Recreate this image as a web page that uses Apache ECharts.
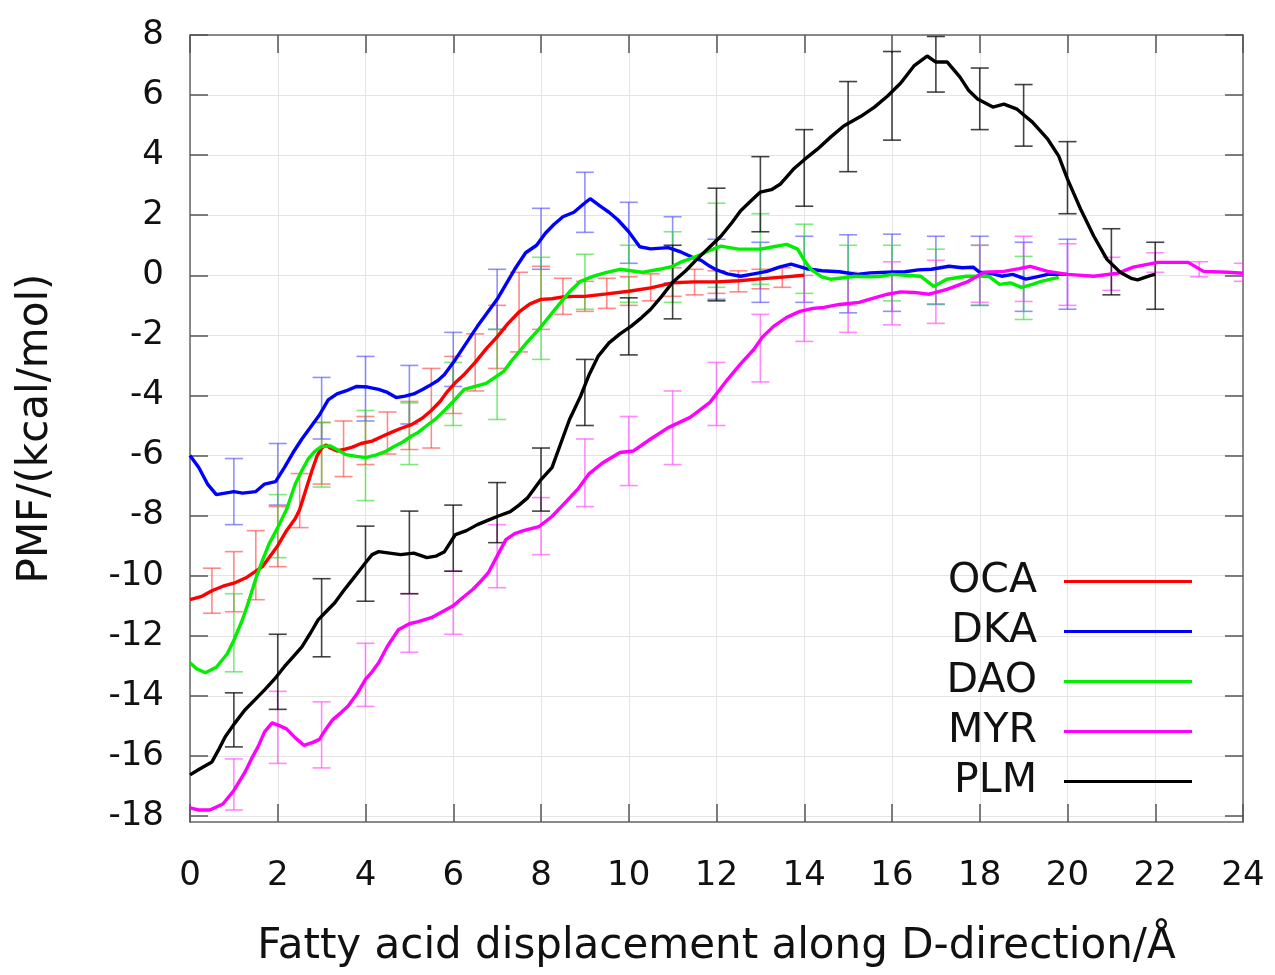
<!DOCTYPE html>
<html><head><meta charset="utf-8">
<script src="https://cdn.jsdelivr.net/npm/echarts@6/dist/echarts.min.js"></script>
<style>html,body{margin:0;padding:0;background:#fff}#c{width:1275px;height:975px}</style>
</head><body><div id="c"></div>
<script>
// ---------- DATA ----------
const seriesNames = ['OCA', 'DKA', 'DAO', 'MYR', 'PLM'];
const xTicks = [0, 2, 4, 6, 8, 10, 12, 14, 16, 18, 20, 22, 24];
const yTicks = [-18, -16, -14, -12, -10, -8, -6, -4, -2, 0, 2, 4, 6, 8];

const ocaLine = [[0,-10.8],[0.25,-10.7],[0.5,-10.5],[0.75,-10.35],[1.0,-10.25],[1.3,-10.05],[1.5,-9.85],[1.65,-9.7],[1.8,-9.4],[2.0,-9.0],[2.2,-8.5],[2.4,-8.1],[2.5,-7.8],[2.65,-7.1],[2.78,-6.5],[2.9,-6.0],[3.0,-5.75],[3.1,-5.65],[3.2,-5.75],[3.35,-5.85],[3.5,-5.8],[3.7,-5.72],[3.9,-5.6],[4.15,-5.52],[4.4,-5.35],[4.6,-5.22],[4.8,-5.1],[5.05,-4.97],[5.3,-4.75],[5.5,-4.5],[5.7,-4.2],[5.85,-3.9],[6.05,-3.57],[6.25,-3.3],[6.5,-2.9],[6.75,-2.45],[7.0,-2.05],[7.25,-1.6],[7.5,-1.22],[7.75,-0.95],[8.0,-0.8],[8.25,-0.78],[8.5,-0.72],[8.75,-0.7],[9.0,-0.7],[9.5,-0.62],[10.0,-0.53],[10.5,-0.42],[11.0,-0.25],[11.5,-0.22],[12.0,-0.22],[12.5,-0.18],[13.0,-0.12],[13.5,-0.06],[14.0,0.0]];
const dkaLine = [[0,-6.0],[0.2,-6.4],[0.4,-6.95],[0.6,-7.3],[0.8,-7.25],[1.0,-7.2],[1.2,-7.25],[1.5,-7.2],[1.7,-6.95],[1.95,-6.87],[2.15,-6.4],[2.35,-5.9],[2.55,-5.45],[2.75,-5.05],[2.95,-4.65],[3.15,-4.15],[3.35,-3.95],[3.55,-3.85],[3.8,-3.7],[4.05,-3.72],[4.3,-3.8],[4.5,-3.9],[4.7,-4.07],[4.9,-4.02],[5.1,-3.95],[5.3,-3.8],[5.45,-3.68],[5.65,-3.5],[5.8,-3.3],[6.05,-2.8],[6.3,-2.25],[6.55,-1.7],[6.8,-1.2],[7.0,-0.8],[7.2,-0.3],[7.4,0.2],[7.65,0.75],[7.9,1.0],[8.1,1.4],[8.3,1.7],[8.5,1.95],[8.75,2.1],[8.95,2.35],[9.12,2.55],[9.35,2.3],[9.55,2.1],[9.75,1.85],[10.0,1.45],[10.25,0.95],[10.5,0.88],[10.9,0.92],[11.2,0.77],[11.45,0.6],[11.65,0.5],[11.85,0.3],[12.0,0.18],[12.25,0.05],[12.55,-0.03],[12.85,0.05],[13.15,0.13],[13.45,0.28],[13.7,0.37],[14.05,0.22],[14.4,0.15],[14.8,0.12],[15.2,0.03],[15.5,0.08],[15.9,0.1],[16.3,0.12],[16.6,0.18],[16.9,0.2],[17.3,0.3],[17.6,0.25],[17.85,0.27],[18.0,0.1],[18.3,0.05],[18.5,-0.03],[18.75,0.03],[19.05,-0.13],[19.3,-0.05],[19.55,0.03],[20.0,0.03]];
const daoLine = [[0,-12.9],[0.15,-13.1],[0.35,-13.23],[0.6,-13.05],[0.85,-12.6],[1.0,-12.15],[1.2,-11.45],[1.35,-10.8],[1.5,-10.1],[1.65,-9.5],[1.8,-8.95],[2.0,-8.4],[2.2,-7.8],[2.4,-6.95],[2.55,-6.5],[2.7,-6.1],[2.85,-5.85],[3.0,-5.7],[3.2,-5.68],[3.35,-5.8],[3.55,-5.97],[3.8,-6.03],[4.0,-6.07],[4.25,-5.98],[4.45,-5.87],[4.65,-5.7],[4.85,-5.55],[5.05,-5.35],[5.2,-5.23],[5.4,-5.0],[5.6,-4.78],[5.8,-4.5],[6.0,-4.2],[6.25,-3.8],[6.5,-3.7],[6.75,-3.6],[6.95,-3.4],[7.15,-3.2],[7.3,-2.9],[7.5,-2.55],[7.7,-2.2],[7.95,-1.8],[8.2,-1.35],[8.45,-0.9],[8.65,-0.55],[8.9,-0.2],[9.2,-0.03],[9.5,0.1],[9.8,0.2],[10.05,0.15],[10.3,0.1],[10.7,0.2],[11.0,0.3],[11.2,0.45],[11.55,0.63],[11.8,0.8],[12.1,0.97],[12.5,0.87],[13.0,0.87],[13.3,0.95],[13.6,1.03],[13.85,0.87],[14.0,0.5],[14.15,0.2],[14.4,-0.05],[14.6,-0.13],[14.9,-0.08],[15.15,-0.03],[15.5,-0.05],[15.75,-0.03],[16.0,0.03],[16.3,0.0],[16.65,-0.03],[16.95,-0.37],[17.25,-0.13],[17.7,-0.03],[18.2,-0.03],[18.45,-0.3],[18.7,-0.25],[18.95,-0.4],[19.2,-0.3],[19.4,-0.2],[19.8,-0.07]];
const myrLine = [[0,-17.73],[0.2,-17.8],[0.45,-17.8],[0.75,-17.6],[1.0,-17.15],[1.25,-16.55],[1.4,-16.1],[1.55,-15.7],[1.7,-15.2],[1.87,-14.9],[2.05,-15.0],[2.2,-15.1],[2.4,-15.4],[2.6,-15.65],[2.8,-15.55],[2.95,-15.45],[3.1,-15.1],[3.25,-14.8],[3.45,-14.55],[3.6,-14.35],[3.8,-13.95],[4.0,-13.45],[4.15,-13.2],[4.3,-12.9],[4.5,-12.35],[4.75,-11.8],[5.0,-11.6],[5.2,-11.53],[5.5,-11.4],[5.75,-11.2],[6.0,-11.0],[6.2,-10.75],[6.45,-10.45],[6.65,-10.15],[6.8,-9.9],[7.0,-9.35],[7.2,-8.8],[7.4,-8.6],[7.6,-8.5],[7.95,-8.37],[8.25,-8.03],[8.55,-7.57],[8.85,-7.1],[9.1,-6.6],[9.4,-6.25],[9.8,-5.9],[10.1,-5.85],[10.5,-5.45],[10.9,-5.07],[11.4,-4.73],[11.85,-4.23],[12.05,-3.85],[12.25,-3.47],[12.55,-2.95],[12.85,-2.47],[13.05,-2.05],[13.3,-1.7],[13.6,-1.4],[13.9,-1.2],[14.2,-1.1],[14.45,-1.07],[14.8,-0.97],[15.25,-0.9],[15.6,-0.75],[15.9,-0.63],[16.2,-0.55],[16.5,-0.57],[16.85,-0.63],[17.25,-0.47],[17.7,-0.23],[18.1,0.1],[18.55,0.13],[18.9,0.22],[19.15,0.3],[19.55,0.13],[20.0,0.03],[20.6,-0.03],[21.15,0.07],[21.5,0.27],[22.05,0.43],[22.75,0.43],[23.1,0.13],[23.65,0.1],[24.0,0.07]];
const plmLine = [[0,-16.63],[0.2,-16.45],[0.5,-16.2],[0.65,-15.8],[0.8,-15.37],[1.0,-14.95],[1.25,-14.47],[1.5,-14.1],[1.7,-13.8],[1.95,-13.4],[2.15,-13.03],[2.35,-12.7],[2.55,-12.37],[2.75,-11.9],[2.92,-11.47],[3.1,-11.2],[3.3,-10.9],[3.5,-10.5],[3.7,-10.13],[3.85,-9.85],[4.0,-9.57],[4.15,-9.3],[4.3,-9.2],[4.55,-9.25],[4.8,-9.3],[5.1,-9.25],[5.4,-9.4],[5.6,-9.35],[5.8,-9.2],[6.05,-8.63],[6.3,-8.5],[6.55,-8.3],[6.8,-8.15],[7.0,-8.03],[7.3,-7.87],[7.5,-7.65],[7.7,-7.4],[7.85,-7.1],[8.0,-6.8],[8.25,-6.4],[8.45,-5.6],[8.65,-4.8],[8.9,-4.03],[9.1,-3.3],[9.3,-2.7],[9.55,-2.25],[9.8,-1.95],[10.05,-1.7],[10.3,-1.4],[10.5,-1.13],[10.75,-0.7],[11.0,-0.23],[11.3,0.15],[11.55,0.53],[11.85,0.95],[12.1,1.3],[12.35,1.75],[12.55,2.15],[12.8,2.5],[13.0,2.77],[13.25,2.85],[13.45,3.03],[13.75,3.53],[14.0,3.85],[14.3,4.2],[14.6,4.6],[14.9,4.97],[15.3,5.3],[15.6,5.6],[15.9,5.97],[16.2,6.4],[16.5,6.97],[16.8,7.3],[17.0,7.1],[17.26,7.1],[17.55,6.6],[17.75,6.15],[17.95,5.87],[18.3,5.6],[18.55,5.7],[18.85,5.53],[19.2,5.1],[19.55,4.53],[19.8,3.97],[20.0,3.2],[20.3,2.2],[20.6,1.3],[20.9,0.53],[21.2,0.1],[21.45,-0.1],[21.6,-0.15],[21.9,0.0],[22.0,0.03]];

// error bars: [x, low, high]
const ocaErr = [[0.5,-11.25,-9.75],[1,-11.2,-9.2],[1.5,-10.8,-8.5],[2,-9.7,-7.7],[2.5,-8.4,-6.6],[3,-6.95,-4.9],[3.5,-6.7,-4.85],[4,-6.3,-4.7],[4.5,-5.95,-4.55],[5,-5.8,-4.2],[5.5,-5.75,-3.1],[6,-4.6,-2.7],[6.5,-3.85,-1.95],[7,-3.1,-1.0],[7.5,-2.55,0.1],[8,-1.8,0.3],[8.5,-1.3,-0.1],[9,-1.2,-0.2],[9.5,-1.1,-0.1],[10,-1.0,-0.05],[10.5,-0.85,0.05],[11,-0.7,0.25],[11.5,-0.65,0.2],[12,-0.6,0.15],[12.5,-0.55,0.15],[13,-0.45,0.2],[13.5,-0.4,0.25]];
const dkaErr = [[1,-8.3,-6.1],[2,-7.65,-5.6],[3,-5.45,-3.4],[4,-4.85,-2.7],[5,-4.95,-3.0],[6,-3.7,-1.9],[7,-1.8,0.2],[8,0.2,2.23],[9,1.43,3.43],[10,0.4,2.43],[11,-0.25,1.95],[12,-0.8,1.2],[13,-0.9,1.1],[14,-0.9,1.3],[15,-1.25,1.35],[16,-1.2,1.37],[17,-0.97,1.3],[18,-1.0,1.3],[19,-1.2,1.1],[20,-1.13,1.2]];
const daoErr = [[1,-13.2,-10.6],[2,-9.4,-7.3],[3,-7.05,-4.9],[4,-7.5,-4.5],[5,-6.3,-4.25],[6,-5.0,-2.9],[7,-4.8,-1.8],[8,-2.8,0.6],[9,-1.13,0.7],[10,-0.9,1.0],[11,-0.9,1.45],[12,-0.4,2.4],[13,-0.3,2.05],[14,-0.6,1.7],[15,-1.0,1.0],[16,-0.85,1.0],[17,-0.95,0.87],[18,-1.0,1.0],[19,-1.47,0.63]];
const myrErr = [[1,-17.8,-16.1],[2,-16.25,-13.85],[3,-16.4,-14.2],[4,-14.35,-12.25],[5,-12.55,-10.6],[6,-11.95,-9.85],[7,-10.4,-8.3],[8,-9.3,-7.4],[9,-7.7,-5.45],[10,-7.0,-4.7],[11,-6.3,-3.85],[12,-5.0,-2.9],[13,-3.55,-1.3],[14,-2.2,0.0],[15,-1.9,0.1],[16,-1.65,0.45],[17,-1.6,0.5],[18,-0.9,1.0],[19,-0.87,1.3],[20,-1.0,1.05],[21,-0.5,0.6],[22,0.1,0.75],[23,-0.05,0.45],[24,-0.2,0.4]];
const plmErr = [[1,-15.7,-13.9],[2,-14.45,-11.95],[3,-12.7,-10.1],[4,-10.85,-8.35],[5,-10.6,-7.85],[6,-9.85,-7.65],[7,-8.9,-6.9],[8,-7.85,-5.75],[9,-5.0,-2.8],[10,-2.65,-0.75],[11,-1.45,1.0],[12,-0.85,2.9],[13,1.45,3.95],[14,2.3,4.85],[15,3.45,6.45],[16,4.5,7.45],[17,6.1,7.95],[18,4.85,6.9],[19,4.3,6.35],[20,2.05,4.45],[21,-0.65,1.55],[22,-1.13,1.1]];

// ---------- STYLE ----------
const lineColors = ['#ff0000', '#0000ff', '#00ee00', '#ff00ff', '#000000'];
const errColors = ['rgba(255,60,60,0.6)', 'rgba(70,70,255,0.6)', 'rgba(40,220,40,0.6)', 'rgba(255,60,255,0.6)', 'rgba(20,20,20,0.8)'];
const FONT = 'DejaVu Sans';

const lines = [ocaLine, dkaLine, daoLine, myrLine, plmLine];
const errs = [ocaErr, dkaErr, daoErr, myrErr, plmErr];

function errSeries(name, data, color) {
  return {
    type: 'custom', name: name, data: data, z: 2, silent: true, clip: true,
    encode: { x: 0, y: [1, 2] },
    renderItem: function (params, api) {
      const x = api.value(0), lo = api.value(1), hi = api.value(2);
      const a = api.coord([x, lo]), b = api.coord([x, hi]);
      const w = 9;
      const st = { stroke: color, lineWidth: 1.6 };
      return { type: 'group', children: [
        { type: 'line', shape: { x1: a[0], y1: a[1], x2: b[0], y2: b[1] }, style: st },
        { type: 'line', shape: { x1: a[0] - w, y1: a[1], x2: a[0] + w, y2: a[1] }, style: st },
        { type: 'line', shape: { x1: b[0] - w, y1: b[1], x2: b[0] + w, y2: b[1] }, style: st }
      ]};
    }
  };
}

const series = [];
seriesNames.forEach(function (n, i) { series.push(errSeries(n + ' err', errs[i], errColors[i])); });
seriesNames.forEach(function (n, i) {
  series.push({
    type: 'line', name: n, data: lines[i], symbol: 'none', showSymbol: false, z: 3,
    lineStyle: { color: lineColors[i], width: 3.4 }, itemStyle: { color: lineColors[i] }, clip: true
  });
});

const axisLineStyle = { color: '#666', width: 1.5 };
const tickStyle = { color: '#555', width: 1.5 };
const gridLine = { color: '#e4e4e4', width: 1 };

const chart = echarts.init(document.getElementById('c'));
chart.setOption({
  backgroundColor: '#fff',
  animation: false,
  grid: { left: 190, right: 32, top: 35, bottom: 153, containLabel: false },
  legend: {
    data: seriesNames, orient: 'vertical', right: 78, top: 556, align: 'right',
    icon: 'rect', itemWidth: 128, itemHeight: 3, itemGap: 9,
    textStyle: { fontFamily: FONT, fontSize: 41, color: '#111', lineHeight: 40, padding: [0, 22, 0, 0] }
  },
  xAxis: [{
    type: 'value', min: 0, max: 24, interval: 2,
    axisLine: { show: true, onZero: false, lineStyle: axisLineStyle },
    axisTick: { show: true, inside: true, length: 18, lineStyle: tickStyle },
    axisLabel: { fontFamily: FONT, fontSize: 34, color: '#111', margin: 37 },
    splitLine: { show: true, lineStyle: gridLine },
    name: 'Fatty acid displacement along D-direction/Å', nameLocation: 'middle', nameGap: 104,
    nameTextStyle: { fontFamily: FONT, fontSize: 42, color: '#111' }
  }, {
    type: 'value', min: 0, max: 24, interval: 2, position: 'top',
    axisLine: { show: true, onZero: false, lineStyle: axisLineStyle },
    axisTick: { show: true, inside: true, length: 18, lineStyle: tickStyle },
    axisLabel: { show: false }, splitLine: { show: false }
  }],
  yAxis: [{
    type: 'value', min: -18.2, max: 8,
    axisLine: { show: true, onZero: false, lineStyle: axisLineStyle },
    axisTick: { show: true, inside: true, length: 18, customValues: yTicks, lineStyle: tickStyle },
    axisLabel: { customValues: yTicks, fontFamily: FONT, fontSize: 34, color: '#111', margin: 26 },
    splitLine: { show: true, lineStyle: gridLine },
    name: 'PMF/(kcal/mol)', nameLocation: 'middle', nameGap: 133,
    nameTextStyle: { fontFamily: FONT, fontSize: 42, color: '#111' }
  }, {
    type: 'value', min: -18.2, max: 8, position: 'right',
    axisLine: { show: true, onZero: false, lineStyle: axisLineStyle },
    axisTick: { show: true, inside: true, length: 18, customValues: yTicks, lineStyle: tickStyle },
    axisLabel: { show: false }, splitLine: { show: false }
  }],
  series: series
});
</script></body></html>
